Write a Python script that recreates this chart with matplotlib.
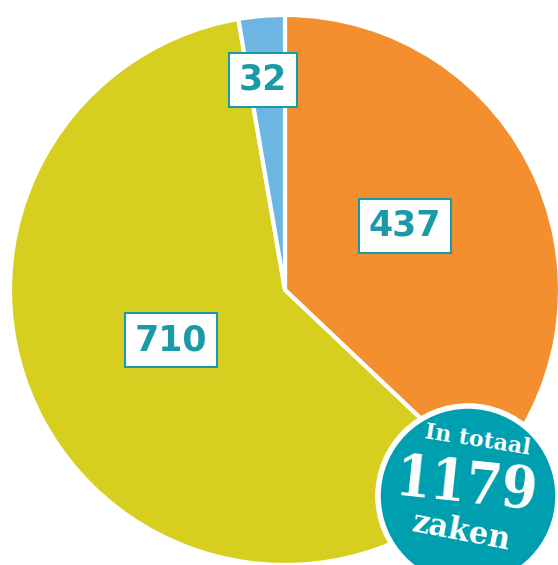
import matplotlib.pyplot as plt
import matplotlib.patches as mpatches
import numpy as np

values = [437, 710, 32]
labels = ['437', '710', '32']
colors = ['#F38F2E', '#D6CF1F', '#6DB6E2']
total = sum(values)

# label placement: fraction of radius and angle nudge (degrees)
label_dist = [0.495, 0.453, 0.768]
label_nudge = [4.8, -4.5, 1.1]

teal = '#009FB0'
fig = plt.figure(figsize=(5.58, 5.65), dpi=100)
ax = fig.add_axes([0, 0, 1, 1])

cx, cy, r = 285, 275, 275
wedges, _ = ax.pie(values, colors=colors, startangle=90, counterclock=False,
                   center=(cx, cy), radius=r,
                   wedgeprops=dict(edgecolor='white', linewidth=3))
ax.set_xlim(0, 558)
ax.set_ylim(0, 565)
ax.set_aspect('equal')
ax.axis('off')

for w, lab, d, nd in zip(wedges, labels, label_dist, label_nudge):
    ang = np.deg2rad((w.theta1 + w.theta2) / 2 + nd)
    x = cx + d * r * np.cos(ang)
    y = cy + d * r * np.sin(ang)
    ax.text(x, y, lab, ha='center', va='center', fontsize=25,
            fontweight='bold', color='#1A9AA6', family='DejaVu Sans',
            bbox=dict(boxstyle='square,pad=0.28', facecolor='white',
                      edgecolor='#1A9AA6', linewidth=1.5))

# badge with the total
bx, by = 468, 69
ax.add_patch(mpatches.Circle((bx, by), 90, facecolor=teal,
                             edgecolor='white', linewidth=4, zorder=5))
ax.text(bx + 10, by + 56, 'In totaal', ha='center', va='center', rotation=-9,
        fontsize=16, fontweight='bold', color='white', family='DejaVu Serif', zorder=6)
ax.text(bx - 1, by + 9, str(total), ha='center', va='center', rotation=-6,
        fontsize=41, fontweight='bold', color='white', family='DejaVu Serif',
        fontstretch='condensed', zorder=6)
ax.text(bx - 6, by - 36, 'zaken', ha='center', va='center', rotation=-11,
        fontsize=22, fontweight='bold', color='white', family='DejaVu Serif', zorder=6)

fig.savefig('out.png', dpi=100)
